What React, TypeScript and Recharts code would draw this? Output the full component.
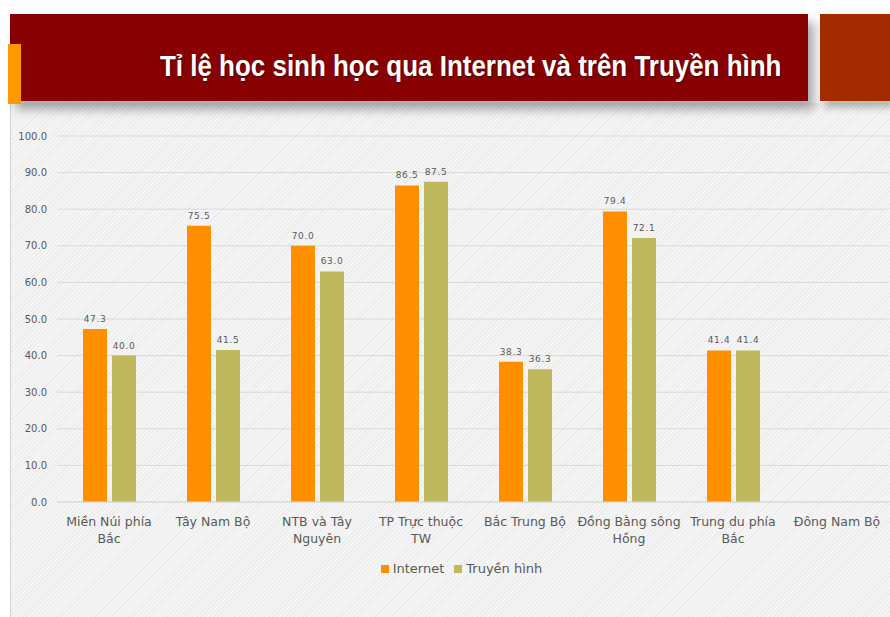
import React from "react";
import {BarChart, Bar, XAxis, YAxis, CartesianGrid, Legend, LabelList} from "recharts";

const categories = [
    "Miền Núi phía Bắc",
    "Tây Nam Bộ",
    "NTB và Tây Nguyên",
    "TP Trực thuộc TW",
    "Bắc Trung Bộ",
    "Đồng Bằng sông Hồng",
    "Trung du phía Bắc",
    "Đông Nam Bộ",
];

// how each category label wraps under the axis
const tickLines: string[][] = [
    ["Miền Núi phía", "Bắc"],
    ["Tây Nam Bộ"],
    ["NTB và Tây", "Nguyên"],
    ["TP Trực thuộc", "TW"],
    ["Bắc Trung Bộ"],
    ["Đồng Bằng sông", "Hồng"],
    ["Trung du phía", "Bắc"],
    ["Đông Nam Bộ"],
];

const internet = [47.3, 75.5, 70.0, 86.5, 38.3, 79.4, 41.4, null];
const truyenHinh = [40.0, 41.5, 63.0, 87.5, 36.3, 72.1, 41.4, null];

const yTicks = [0, 10, 20, 30, 40, 50, 60, 70, 80, 90, 100];

const title = "Tỉ lệ học sinh học qua Internet và trên Truyền hình";

const data = categories.map((c, i) => ({
    name: c,
    internet: internet[i],
    truyenHinh: truyenHinh[i],
}));

const FONT = "'DejaVu Sans', Verdana, sans-serif";
const ORANGE = "#FF8F00";
const OLIVE = "#C0B85C";
const TEXT = "#595959";

const CategoryTick = (props: any) => {
    const {x, y, payload} = props;
    const idx = categories.indexOf(payload.value);
    const lines = idx >= 0 ? tickLines[idx] : [payload.value];
    return (
        <text x={x} y={y} textAnchor="middle" fill={TEXT} fontSize={12.5} fontFamily={FONT}>
            {lines.map((l, i) => (
                <tspan key={i} x={x} dy={i === 0 ? 24 : 17}>{l}</tspan>
            ))}
        </text>
    );
};

const fmt = (v: any) => (v == null ? "" : Number(v).toFixed(1));

const App = () => {
    return (
        <div style={{position: "absolute", left: 0, top: 0, width: 890, height: 617, background: "#fff", overflow: "hidden"}}>
            {/* chart panel */}
            <div style={{
                position: "absolute", left: 10, top: 103, width: 880, height: 514,
                borderLeft: "1px solid #d0d0d0",
                background: "repeating-linear-gradient(135deg, #f5f5f5 0px, #f5f5f5 2px, #ebebeb 2px, #ebebeb 3px)",
            }}/>
            {/* title banner */}
            <div style={{
                position: "absolute", left: 10, top: 14, width: 798, height: 87,
                background: "#880000",
                boxShadow: "6px 8px 10px rgba(0,0,0,0.35)",
            }}/>
            <div style={{
                position: "absolute", left: 820, top: 14, width: 70, height: 87,
                background: "#A32B00",
                boxShadow: "4px 6px 8px rgba(0,0,0,0.3)",
            }}/>
            <div style={{position: "absolute", left: 8, top: 44, width: 13, height: 60, background: "#FF9900"}}/>
            <div style={{
                position: "absolute", left: 160, top: 49,
                color: "#fff", fontFamily: "'Liberation Sans', Arial, sans-serif",
                fontWeight: "bold", fontSize: 30, lineHeight: "34px", whiteSpace: "nowrap",
                transform: "scaleX(0.865)", transformOrigin: "left center",
                textShadow: "1px 1px 2px rgba(0,0,0,0.5)",
            }}>
                {title}
            </div>

            <div style={{position: "absolute", left: 10, top: 105}}>
                <BarChart
                    width={880}
                    height={512}
                    data={data}
                    barSize={24}
                    barGap={5}
                    margin={{top: 31, right: 1, bottom: 40, left: 0}}
                >
                    <CartesianGrid stroke="#d9d9d9" vertical={false}/>
                    <XAxis
                        dataKey="name"
                        interval={0}
                        height={57}
                        tickLine={false}
                        tickSize={0}
                        tickMargin={0}
                        axisLine={{stroke: "#d9d9d9"}}
                        tick={<CategoryTick/>}
                    />
                    <YAxis
                        width={47}
                        domain={[0, 100]}
                        ticks={yTicks}
                        tickFormatter={fmt}
                        axisLine={false}
                        tickLine={false}
                        tickSize={0}
                        tickMargin={10}
                        tick={{fill: TEXT, fontSize: 10, fontFamily: FONT}}
                    />
                    <Legend
                        verticalAlign="bottom"
                        iconType="square"
                        iconSize={8}
                        wrapperStyle={{paddingLeft: 17}}
                        formatter={(v: any) => <span style={{color: TEXT, fontSize: 13, fontFamily: FONT}}>{v}</span>}
                    />
                    <Bar dataKey="internet" name="Internet" fill={ORANGE} isAnimationActive={false}>
                        <LabelList dataKey="internet" position="top" offset={7} formatter={fmt}
                                   fill={TEXT} fontSize={9} fontFamily={FONT} style={{letterSpacing: 0.6}}/>
                    </Bar>
                    <Bar dataKey="truyenHinh" name="Truyền hình" fill={OLIVE} isAnimationActive={false}>
                        <LabelList dataKey="truyenHinh" position="top" offset={7} formatter={fmt}
                                   fill={TEXT} fontSize={9} fontFamily={FONT} style={{letterSpacing: 0.6}}/>
                    </Bar>
                </BarChart>
            </div>
        </div>
    );
};

export default App;
